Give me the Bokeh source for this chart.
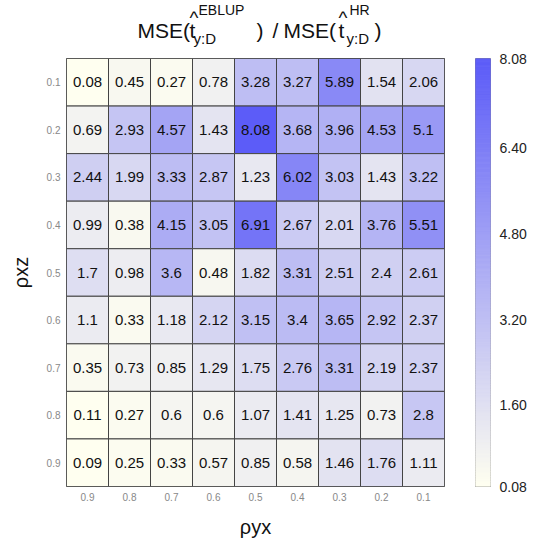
from bokeh.plotting import figure
from bokeh.layouts import column, row
from bokeh.models import (ColumnDataSource, LinearColorMapper, FixedTicker,
                          NumeralTickFormatter, Range1d)
from bokeh.core.properties import value
from bokeh.embed import file_html
from bokeh.resources import INLINE

# ---- data ----
rho_yx = ["0.9", "0.8", "0.7", "0.6", "0.5", "0.4", "0.3", "0.2", "0.1"]
rho_xz = ["0.1", "0.2", "0.3", "0.4", "0.5", "0.6", "0.7", "0.8", "0.9"]
row_01 = [0.08, 0.45, 0.27, 0.78, 3.28, 3.27, 5.89, 1.54, 2.06]
row_02 = [0.69, 2.93, 4.57, 1.43, 8.08, 3.68, 3.96, 4.53, 5.1]
row_03 = [2.44, 1.99, 3.33, 2.87, 1.23, 6.02, 3.03, 1.43, 3.22]
row_04 = [0.99, 0.38, 4.15, 3.05, 6.91, 2.67, 2.01, 3.76, 5.51]
row_05 = [1.7, 0.98, 3.6, 0.48, 1.82, 3.31, 2.51, 2.4, 2.61]
row_06 = [1.1, 0.33, 1.18, 2.12, 3.15, 3.4, 3.65, 2.92, 2.37]
row_07 = [0.35, 0.73, 0.85, 1.29, 1.75, 2.76, 3.31, 2.19, 2.37]
row_08 = [0.11, 0.27, 0.6, 0.6, 1.07, 1.41, 1.25, 0.73, 2.8]
row_09 = [0.09, 0.25, 0.33, 0.57, 0.85, 0.58, 1.46, 1.76, 1.11]
rows = [row_01, row_02, row_03, row_04, row_05, row_06, row_07, row_08, row_09]
cbar_ticks = [0.08, 1.6, 3.2, 4.8, 6.4, 8.08]
vmin, vmax = 0.08, 8.08

xs, ys, vals, labels = [], [], [], []
for yi, r in zip(rho_xz, rows):
    for xi, v in zip(rho_yx, r):
        xs.append(xi); ys.append(yi); vals.append(v); labels.append(f"{v:g}")
src = ColumnDataSource(dict(x=xs, y=ys, v=vals, t=labels))

# palette: ivory -> blue
lo = (255, 255, 240)
hi = (92, 92, 248)
N = 256
palette = []
for i in range(N):
    f = i / (N - 1)
    c = tuple(int(round(lo[k] + (hi[k] - lo[k]) * f)) for k in range(3))
    palette.append("#%02x%02x%02x" % c)
mapper = LinearColorMapper(palette=palette, low=vmin, high=vmax)

FONT = "Liberation Sans"
TITLE_H = 50
FL, FTOP, FW, FH, FBOT = 66, 8, 378, 428, 58
CB_GAP, CB_W, CB_RIGHT = 31, 22, 32
MAIN_W = FL + FW + 1
CB_FIG_W = CB_GAP - 1 + CB_W + CB_RIGHT
TOTAL_W = MAIN_W + CB_FIG_W
TSHIFT = -8  # svg text baseline correction

# ---- title figure (page pixel coordinates) ----
tf = figure(width=TOTAL_W, height=TITLE_H,
            x_range=Range1d(0, TOTAL_W), y_range=Range1d(TITLE_H, 0),
            output_backend="svg", toolbar_location=None,
            min_border=0, min_border_left=0, min_border_right=0, min_border_top=0, min_border_bottom=0)
tf.axis.visible = False
tf.grid.visible = False
tf.outline_line_color = None

pieces = [("MSE(", 137, 38, 21), ("t", 189, 38, 21), ("^", 189, 25, 19),
          ("EBLUP", 198, 17, 14), ("y:D", 193, 46, 15), (")", 256, 38, 21),
          ("/", 272, 38, 21), ("MSE(", 283, 38, 21), ("t", 338, 38, 21),
          ("^", 338, 25, 19), ("HR", 349, 17, 14), ("y:D", 346, 46, 15), (")", 374, 38, 21)]
for txt, sx, base, size in pieces:
    tf.text(x=[sx], y=[base + TSHIFT], text=[txt], text_font=value(FONT),
            text_font_size=f"{size}px", text_align="left", text_baseline="alphabetic",
            text_color="#111111")

# ---- main heatmap ----
p = figure(x_range=rho_yx, y_range=list(reversed(rho_xz)),
           width=MAIN_W, height=FTOP + FH + FBOT, output_backend="svg", toolbar_location=None,
           min_border_left=FL, min_border_top=FTOP, min_border_bottom=FBOT, min_border_right=1)
p.rect(x="x", y="y", width=1, height=1, source=src,
       fill_color={"field": "v", "transform": mapper},
       line_color="#444444", line_width=1)
p.text(x="x", y="y", text="t", source=src, text_align="center", text_baseline="middle",
       text_font=value(FONT), text_font_size="15px", text_color="#111111")

p.grid.visible = False
p.outline_line_color = "#444444"
for ax in (p.xaxis[0], p.yaxis[0]):
    ax.axis_line_color = None
    ax.major_tick_line_color = None
    ax.minor_tick_line_color = None
    ax.major_tick_out = 0
    ax.major_tick_in = 0
    ax.major_label_text_font = FONT
    ax.major_label_text_font_size = "10px"
    ax.major_label_text_color = "#888888"
    ax.major_label_standoff = 6
    ax.axis_label_text_font = FONT
    ax.axis_label_text_font_style = "normal"
    ax.axis_label_text_font_size = "20px"
    ax.axis_label_text_color = "#111111"
p.xaxis.axis_label = "ρyx"
p.yaxis.axis_label = "ρxz"
p.xaxis.axis_label_standoff = 12
p.yaxis.axis_label_standoff = 12

# ---- colour bar as its own small figure ----
edges = [vmin + (vmax - vmin) * i / N for i in range(N + 1)]
cb_src = ColumnDataSource(dict(bottom=edges[:-1], top=edges[1:], c=palette))
cbf = figure(width=CB_FIG_W, height=FTOP + FH + FBOT,
             x_range=Range1d(0, 1), y_range=Range1d(vmin, vmax),
             y_axis_location="right", output_backend="svg", toolbar_location=None,
             min_border_left=CB_GAP - 1, min_border_right=CB_RIGHT,
             min_border_top=FTOP, min_border_bottom=FBOT)
cbf.quad(left=0, right=1, bottom="bottom", top="top", fill_color="c", line_color="c",
         source=cb_src)
cbf.xaxis.visible = False
cbf.grid.visible = False
cbf.outline_line_color = "#888888"
ya = cbf.yaxis[0]
ya.ticker = FixedTicker(ticks=cbar_ticks)
ya.formatter = NumeralTickFormatter(format="0.00")
ya.axis_line_color = None
ya.major_tick_line_color = None
ya.minor_tick_line_color = None
ya.major_label_standoff = 3
ya.major_label_text_font = FONT
ya.major_label_text_font_size = "14px"
ya.major_label_text_color = "#222222"

layout = column(tf, row(p, cbf))
open("out.html", "w").write(file_html(layout, INLINE))
